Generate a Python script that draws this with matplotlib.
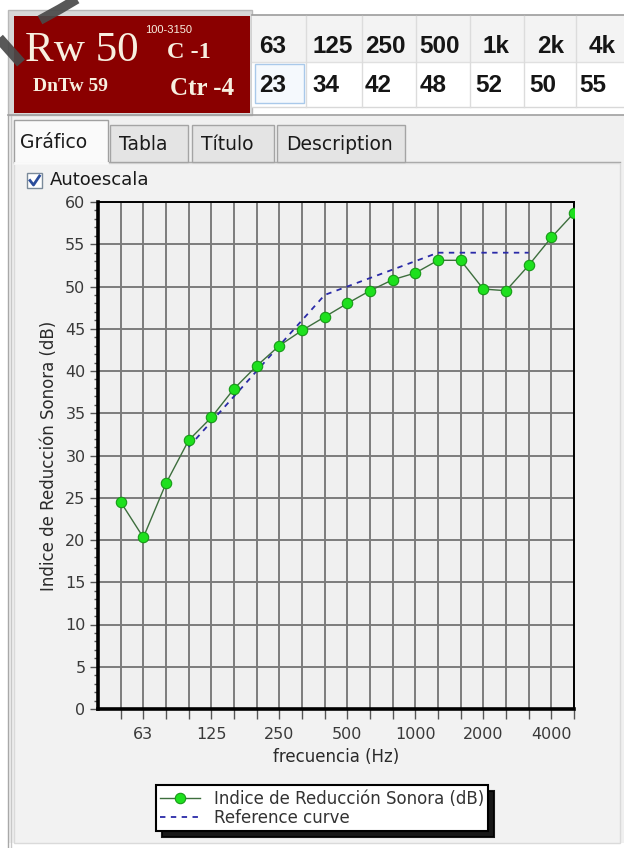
import matplotlib
matplotlib.use("Agg")
import matplotlib.pyplot as plt
from matplotlib.patches import Rectangle
from matplotlib.lines import Line2D
from matplotlib.ticker import MultipleLocator

bands = ['50', '63', '80', '100', '125', '160', '200', '250', '315', '400', '500',
         '630', '800', '1000', '1250', '1600', '2000', '2500', '3150', '4000', '5000']
r_measured = [24.5, 20.3, 26.7, 31.8, 34.5, 37.9, 40.6, 43.0, 44.8, 46.4, 48.0,
              49.5, 50.8, 51.6, 53.1, 53.1, 49.7, 49.5, 52.5, 55.8, 58.7]
# shifted reference curve (ISO 717-1), 100-3150 Hz
ref_bands = bands[3:19]
ref_curve = [31, 34, 37, 40, 43, 46, 49, 50, 51, 52, 53, 54, 54, 54, 54, 54]
tick_labels = ['63', '125', '250', '500', '1000', '2000', '4000']

# octave table at the top
octave_bands = ['63', '125', '250', '500', '1k', '2k', '4k']
octave_values = ['23', '34', '42', '48', '52', '50', '55']
tabs = ['Gráfico', 'Tabla', 'Título', 'Description']

W, H = 624, 848
plt.rcParams['font.family'] = ['DejaVu Sans']

fig = plt.figure(figsize=(W / 100, H / 100), dpi=100)
fig.patch.set_facecolor('white')


def fx(x):
    return x / W


def fy(y):
    return 1 - y / H


def box(x0, y0, x1, y1, **kw):
    r = Rectangle((fx(x0), fy(y1)), (x1 - x0) / W, (y1 - y0) / H,
                  transform=fig.transFigure, **kw)
    fig.add_artist(r)
    return r


def line(xs, ys, **kw):
    fig.add_artist(Line2D([fx(x) for x in xs], [fy(y) for y in ys],
                          transform=fig.transFigure, **kw))


def text(x, y, s, **kw):
    fig.text(fx(x), fy(y), s, **kw)


# panel backgrounds
box(8, 115, 624, 843, facecolor='#f0f0f0', edgecolor='none', zorder=0)
line([8, 8], [115, 848], color='#a8a8a8', lw=1)
line([11, 11], [115, 848], color='#c8c8c8', lw=1)
line([8, 624], [115, 115], color='#a0a0a0', lw=1.2)

# red result box
box(8, 10, 252, 115, facecolor='#d8d8d8', edgecolor='#b8b8b8', lw=1, zorder=1)
box(14, 16, 250, 113, facecolor='#8a0000', edgecolor='none', zorder=2)
cream = '#f8efe0'
text(25, 61, 'Rw 50', family='Liberation Serif', fontsize=31, color=cream,
     va='baseline', zorder=3)
text(145, 33, '100-3150', family='Liberation Sans', fontsize=8, color=cream,
     va='baseline', zorder=3)
text(167, 58, 'C -1', family='Liberation Serif', fontsize=17.5, weight='bold',
     color=cream, va='baseline', zorder=3)
text(33, 91, 'DnTw 59', family='Liberation Serif', fontsize=14, weight='bold',
     color=cream, va='baseline', zorder=3)
text(170, 95, 'Ctr -4', family='Liberation Serif', fontsize=18, weight='bold',
     color=cream, va='baseline', zorder=3)

# gray stroke at the top-left corner
line([-3, 21], [36, 63], color='#4a4a4a', lw=7.5, alpha=0.92, zorder=4,
     solid_capstyle='butt')
line([40, 60, 82], [20, 9, -4], color='#4a4a4a', lw=7, alpha=0.92, zorder=4,
     solid_capstyle='butt')

# octave table
cells = [252, 306, 362, 416, 470, 524, 576, 626]
header_x = [259, 312, 365, 419, 482, 537, 589]
value_x = [259, 312, 365, 420, 475, 529, 579]
box(252, 15, 626, 62, facecolor='#f3f3f3', edgecolor='none', zorder=1)
box(252, 62, 626, 107, facecolor='white', edgecolor='none', zorder=1)
line([252, 624], [15, 15], color='#9c9c9c', lw=1.2, zorder=2)
line([252, 624], [62, 62], color='#e0e0e0', lw=1, zorder=2)
line([252, 624], [107, 107], color='#d8d8d8', lw=1, zorder=2)
for cx in cells[1:-1]:
    line([cx, cx], [16, 107], color='#dcdcdc', lw=1, zorder=2)
box(255, 64, 304, 103, facecolor='#f5f9fd', edgecolor='#a9c9ea', lw=1, zorder=2)
for lab, hx in zip(octave_bands, header_x):
    text(hx, 53, lab, family='Liberation Sans', fontsize=17.5, weight='bold',
         color='#151515', va='baseline', zorder=3)
for val, vx in zip(octave_values, value_x):
    text(vx, 92, val, family='Liberation Sans', fontsize=17.5, weight='bold',
         color='#151515', va='baseline', zorder=3)

# tabs
tab_edges = [(14, 108), (110, 188), (192, 274), (277, 405)]
line([14, 620], [162, 162], color='#a0a0a0', lw=1, zorder=1)
box(14, 163, 620, 843, facecolor='#f2f2f2', edgecolor='#dadada', lw=1, zorder=1)
for i, (name, (x0, x1)) in enumerate(zip(tabs, tab_edges)):
    if i == 0:
        box(x0, 120, x1, 163, facecolor='#fafafa', edgecolor='#a0a0a0', lw=1, zorder=2)
        line([x0 + 1, x1 - 1], [163, 163], color='#fafafa', lw=2, zorder=3)
        text(x0 + 6, 148, name, fontsize=13.5, color='#1a1a1a', va='baseline', zorder=3)
    else:
        box(x0, 125, x1, 162, facecolor='#e4e4e4', edgecolor='#a4a4a4', lw=1, zorder=2)
        text(x0 + 9, 150, name, fontsize=13.5, color='#1a1a1a', va='baseline', zorder=3)

# Autoescala checkbox
box(27, 173, 42, 188, facecolor='white', edgecolor='#7a8a9a', lw=1, zorder=3)
line([30, 33.5, 39.5], [180.5, 185, 176], color='#2b4d9c', lw=2, zorder=4)
text(50, 185, 'Autoescala', fontsize=13, color='#1a1a1a', va='baseline', zorder=3)

# chart
ax = fig.add_axes([fx(98), fy(709), 476 / W, 507 / H], zorder=5)
ax.set_facecolor('#f0f0f0')
l1, = ax.plot(bands, r_measured, color='#3d6e3d', lw=1, marker='o', markersize=7.5,
              markerfacecolor='#1ee01e', markeredgecolor='#179a17', markeredgewidth=0.8,
              label='Indice de Reducción Sonora (dB)', zorder=4)
l2, = ax.plot(ref_bands, ref_curve, color='#2a2aa8', lw=1.3, linestyle=(0, (3, 3)),
              label='Reference curve', zorder=3)

ax.set_xlim(-1, len(bands) - 1)
ax.set_ylim(0, 60)
ax.set_xticks(range(len(bands)))
ax.set_xticklabels([b if b in tick_labels else '' for b in bands])
ax.yaxis.set_major_locator(MultipleLocator(5))
ax.yaxis.set_minor_locator(MultipleLocator(1))
ax.grid(True, which='major', color='#7c7c7c', lw=1.4)
ax.set_axisbelow(True)
ax.tick_params(axis='x', length=7, width=1, color='#555555', pad=6,
               labelsize=11.5, labelcolor='#3a3a3a')
ax.tick_params(axis='y', which='major', length=6, width=1, color='#555555', pad=3,
               labelsize=11.5, labelcolor='#3a3a3a')
ax.tick_params(axis='y', which='minor', length=3, width=1, color='#555555')
for side in ['left', 'bottom']:
    ax.spines[side].set_linewidth(2.6)
for side in ['top', 'right']:
    ax.spines[side].set_linewidth(1.4)
ax.set_ylabel('Indice de Reducción Sonora (dB)', fontsize=12, color='#2a2a2a', labelpad=5)
ax.set_xlabel('frecuencia (Hz)', fontsize=12, color='#2a2a2a', labelpad=4)

leg = ax.legend(handles=[l1, l2], loc='upper center',
                bbox_to_anchor=(fx(322), fy(777)), bbox_transform=fig.transFigure,
                fontsize=12, frameon=True, fancybox=False, edgecolor='black',
                facecolor='white', framealpha=1, borderpad=0.25, labelspacing=0.1,
                handlelength=2.4, handletextpad=0.8,
                shadow={'color': 'black', 'ox': 4, 'oy': -4, 'alpha': 0.9})
leg.get_frame().set_linewidth(1.5)
for t in leg.get_texts():
    t.set_color('#333333')

fig.savefig('out.png', dpi=100)
